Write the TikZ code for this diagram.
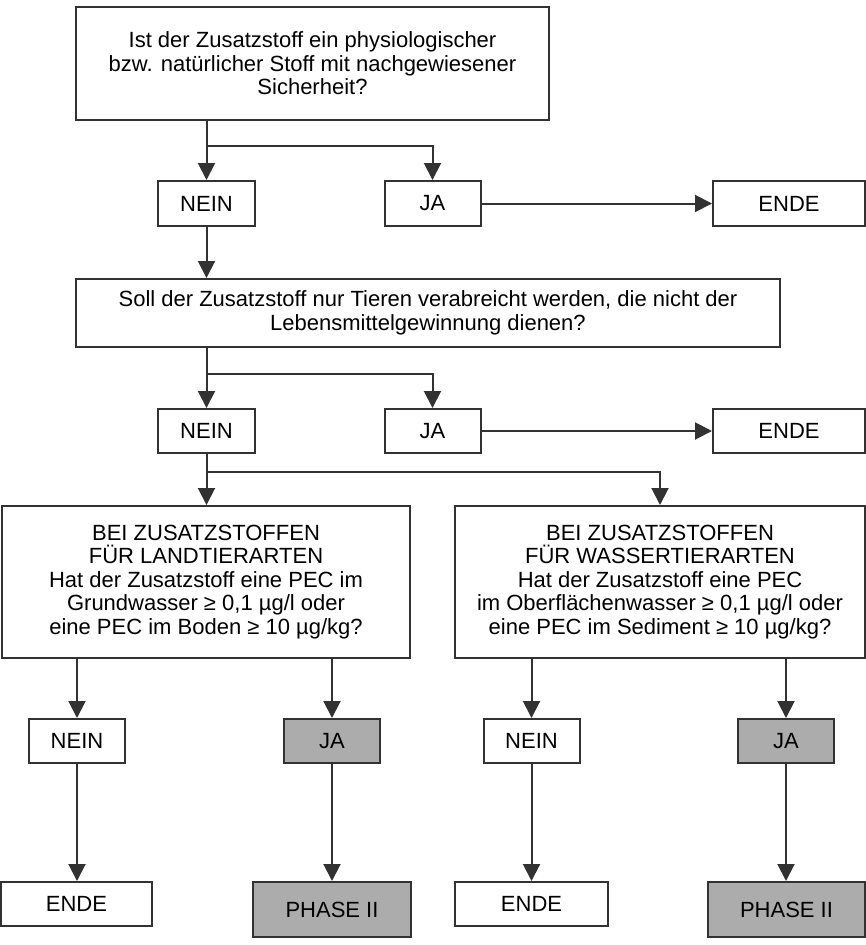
\documentclass[tikz,border=0pt]{standalone}
\usepackage{fontspec}
\setmainfont{Liberation Sans}
\usetikzlibrary{arrows.meta}
\definecolor{linec}{RGB}{50,50,50}
\definecolor{boxgray}{RGB}{172,172,172}
\begin{document}
\begin{tikzpicture}[x=1pt,y=-1pt,
  box/.style={draw=linec, line width=2pt, fill=white, inner sep=0pt, align=center,
    font=\fontsize{22}{23.5}\selectfont, text=black},
  greybox/.style={box, fill=boxgray},
  arr/.style={draw=linec, line width=2pt, -{Triangle[length=17pt,width=17pt]}}]
\useasboundingbox (0,0) rectangle (866,945);

% row 1
\node[box, minimum width=473pt, minimum height=113pt] (q1) at (312.5,63.5)
  {Ist der Zusatzstoff ein physiologischer\\bzw. natürlicher Stoff mit nachgewiesener\\Sicherheit?};
\node[box, minimum width=97pt, minimum height=45pt] (nein1) at (206.5,203.5) {NEIN};
\node[box, minimum width=96pt, minimum height=45pt] (ja1) at (432.5,203.5) {JA};
\node[box, minimum width=152pt, minimum height=45pt] (ende1) at (789,203.5) {ENDE};

% row 2
\node[box, minimum width=704pt, minimum height=68pt] (q2) at (428,313)
  {Soll der Zusatzstoff nur Tieren verabreicht werden, die nicht der\\Lebensmittelgewinnung dienen?};
\node[box, minimum width=97pt, minimum height=44pt] (nein2) at (206.5,431) {NEIN};
\node[box, minimum width=96pt, minimum height=44pt] (ja2) at (432.5,431) {JA};
\node[box, minimum width=152pt, minimum height=44pt] (ende2) at (789,431) {ENDE};

% row 3
\node[box, minimum width=408pt, minimum height=152pt] (q3) at (206,582)
  {BEI ZUSATZSTOFFEN\\FÜR LANDTIERARTEN\\Hat der Zusatzstoff eine PEC im\\Grundwasser ≥ 0,1 µg/l oder\\eine PEC im Boden ≥ 10 µg/kg?};
\node[box, minimum width=410pt, minimum height=152pt] (q4) at (660,582)
  {BEI ZUSATZSTOFFEN\\FÜR WASSERTIERARTEN\\Hat der Zusatzstoff eine PEC\\im Oberflächenwasser ≥ 0,1 µg/l oder\\eine PEC im Sediment ≥ 10 µg/kg?};

% row 4
\node[box, minimum width=96pt, minimum height=44pt] (nein3) at (77,741) {NEIN};
\node[greybox, minimum width=96pt, minimum height=44pt] (ja3) at (332,741) {JA};
\node[box, minimum width=96pt, minimum height=44pt] (nein4) at (531.5,741) {NEIN};
\node[greybox, minimum width=96pt, minimum height=44pt] (ja4) at (786,741) {JA};

% row 5
\node[box, minimum width=151pt, minimum height=44pt] (ende3) at (76.5,904) {ENDE};
\node[greybox, minimum width=158pt, minimum height=55pt] (ph3) at (332,909.5) {PHASE II};
\node[box, minimum width=153pt, minimum height=44pt] (ende4) at (531.5,904) {ENDE};
\node[greybox, minimum width=157pt, minimum height=55pt] (ph4) at (786.5,909.5) {PHASE II};

% connectors
\coordinate (b1) at (206.5,146);
\coordinate (b2) at (206.5,374);
\coordinate (b3) at (206.5,472);

\draw[arr] (q1.south -| nein1.north) -- (nein1.north);
\draw[arr] (b1) -| (ja1.north);
\draw[arr] (ja1.east) -- (ende1.west);
\draw[arr] (nein1.south) -- (q2.north -| nein1.south);

\draw[arr] (q2.south -| nein2.north) -- (nein2.north);
\draw[arr] (b2) -| (ja2.north);
\draw[arr] (ja2.east) -- (ende2.west);
\draw[arr] (nein2.south) -- (q3.north -| nein2.south);
\draw[arr] (b3) -| (q4.north);

\draw[arr] (q3.south -| nein3.north) -- (nein3.north);
\draw[arr] (q3.south -| ja3.north) -- (ja3.north);
\draw[arr] (q4.south -| nein4.north) -- (nein4.north);
\draw[arr] (q4.south -| ja4.north) -- (ja4.north);

\draw[arr] (nein3.south) -- (ende3.north -| nein3.south);
\draw[arr] (ja3.south) -- (ph3.north);
\draw[arr] (nein4.south) -- (ende4.north -| nein4.south);
\draw[arr] (ja4.south) -- (ph4.north -| ja4.south);
\end{tikzpicture}
\end{document}
